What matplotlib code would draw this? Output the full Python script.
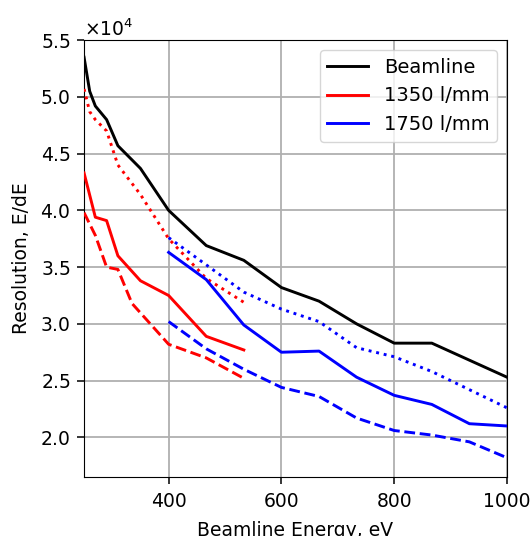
#!/usr/bin/env python3
# -*- coding: utf-8 -*-

"""Resolving power vs beamline energy for the two gratings"""

# -- Third-party modules -- #
import matplotlib
matplotlib.use('Agg')
import matplotlib.pyplot as plt
from matplotlib.lines import Line2D


# Energies [eV]
E_LOW_BEAM = [250, 260, 270, 290, 310, 350]
E_LOW_1350 = [250, 270, 290, 310, 350]
E_LOW_1350_DASH = [250, 270, 290, 310, 335]
E_LOW_1350_DOT = [250, 260, 270, 290, 310, 350]
E_HIGH = [400, 466.7, 533.3, 600, 666.7, 733.3, 800, 866.7, 933.3, 1000]

# Resolution values [x1e4]
BEAMLINE = [5.35, 5.05, 4.92, 4.80, 4.57, 4.37,
            4.00, 3.69, 3.56, 3.32, 3.20, 3.00, 2.83, 2.83, 2.68, 2.53]
G1350_SOLID = [4.33, 3.94, 3.91, 3.60, 3.38, 3.25, 2.89, 2.77]
G1350_DASH = [3.98, 3.78, 3.50, 3.48, 3.18, 2.82, 2.70, 2.52]
G1350_DOT = [5.07, 4.87, 4.80, 4.70, 4.40, 4.14, 3.75, 3.40, 3.19]
G1750_SOLID = [3.63, 3.39, 2.99, 2.75, 2.76, 2.53, 2.37, 2.29, 2.12, 2.10]
G1750_DASH = [3.02, 2.78, 2.60, 2.44, 2.36, 2.17, 2.06, 2.02, 1.96, 1.82]
G1750_DOT = [3.76, 3.52, 3.28, 3.13, 3.02, 2.79, 2.71, 2.58, 2.42, 2.26]

LEGEND_LABELS = ['Beamline', '1350 l/mm', '1750 l/mm']
X_TICKS = [400, 600, 800, 1000]
Y_TICKS = [20000, 25000, 30000, 35000, 40000, 45000, 50000, 55000]

PLOT_OPTIONS = {
    'figsize': (5.32, 5.36),
    'dpi': 100,
    'fontsize': 13.5,
    'legend_fontsize': 14,
    'lw': 2.1,
    'xlim': (250, 1000),
    'ylim': (16500, 55000),
}


def scaled(values):
    return [v * 1e4 for v in values]


def make_plot(opt: dict):
    plt.rcParams['font.size'] = opt['fontsize']
    fig = plt.figure(figsize=opt['figsize'], dpi=opt['dpi'])
    ax = fig.add_axes([0.158, 0.110, 0.795, 0.815])
    lw = opt['lw']

    e_beam = E_LOW_BEAM + E_HIGH
    e_1350 = E_LOW_1350 + E_HIGH[:3]
    e_1350_dash = E_LOW_1350_DASH + E_HIGH[:3]
    e_1350_dot = E_LOW_1350_DOT + E_HIGH[:3]

    ax.plot(e_beam, scaled(BEAMLINE), color='k', lw=lw, zorder=3)
    ax.plot(e_1350_dot, scaled(G1350_DOT), color='r', lw=lw, ls=':', zorder=3)
    ax.plot(e_1350, scaled(G1350_SOLID), color='r', lw=lw, zorder=3)
    ax.plot(e_1350_dash, scaled(G1350_DASH), color='r', lw=lw, ls='--', zorder=3)
    ax.plot(E_HIGH, scaled(G1750_DOT), color='b', lw=lw, ls=':', zorder=3)
    ax.plot(E_HIGH, scaled(G1750_SOLID), color='b', lw=lw, zorder=3)
    ax.plot(E_HIGH, scaled(G1750_DASH), color='b', lw=lw, ls='--', zorder=3)

    ax.set_xlim(*opt['xlim'])
    ax.set_ylim(*opt['ylim'])
    ax.set_xticks(X_TICKS)
    ax.set_yticks(Y_TICKS)
    ax.ticklabel_format(axis='y', style='sci', scilimits=(0, 0), useMathText=True)
    ax.yaxis.get_offset_text().set_fontsize(opt['fontsize'])
    ax.tick_params(axis='both', length=5, width=1.1)
    ax.tick_params(axis='x', pad=6)
    ax.tick_params(axis='y', pad=4.5)
    ax.grid(True, color='#b0b0b0', lw=1.3)
    ax.set_axisbelow(True)
    ax.set_xlabel('Beamline Energy, eV', labelpad=7)
    ax.set_ylabel('Resolution, E/dE', labelpad=7)

    handles = [Line2D([], [], color=c, lw=lw) for c in ('k', 'r', 'b')]
    ax.legend(handles, LEGEND_LABELS, loc='upper right',
              fontsize=opt['legend_fontsize'], handlelength=2.1)

    fig.savefig('out.png', dpi=opt['dpi'])


def main():
    make_plot(PLOT_OPTIONS)


if __name__ == '__main__':
    main()
